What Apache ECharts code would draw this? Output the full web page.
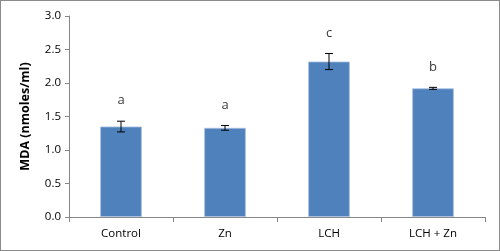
<!DOCTYPE html>
<html><head><meta charset="utf-8">
<script src="https://cdn.jsdelivr.net/npm/echarts@6/dist/echarts.min.js"></script>
<style>html,body{margin:0;padding:0;background:#fff}#c{width:500px;height:251px;box-sizing:border-box;border:1px solid #8a8a8a}</style>
</head><body><div id="c"></div>
<script>
const categories = ['Control', 'Zn', 'LCH', 'LCH + Zn'];
const means = [1.35, 1.33, 2.32, 1.92];
const errors = [0.08, 0.035, 0.12, 0.015];
const letters = ['a', 'a', 'c', 'b'];
const yTicks = [0, 0.5, 1.0, 1.5, 2.0, 2.5, 3.0];

const chart = echarts.init(document.getElementById('c'), null, {renderer: 'canvas'});
const font = 'Open Sans';
chart.setOption({
  animation: false,
  grid: {left: 68, right: 14, top: 15, bottom: 33},
  xAxis: {
    type: 'category', data: categories,
    axisLine: {lineStyle: {color: '#868686'}},
    axisTick: {show: true, length: 5, lineStyle: {color: '#868686'}, alignWithLabel: false},
    axisLabel: {color: '#000', fontFamily: font, fontSize: 11.5, margin: 11}
  },
  yAxis: {
    type: 'value', min: yTicks[0], max: yTicks[yTicks.length - 1], interval: 0.5,
    name: 'MDA (nmoles/ml)', nameLocation: 'middle', nameGap: 37,
    nameTextStyle: {fontFamily: font, fontWeight: 'bold', fontSize: 12.5, color: '#000'},
    axisLine: {show: true, lineStyle: {color: '#868686'}},
    axisTick: {show: true, length: 4, lineStyle: {color: '#868686'}},
    splitLine: {show: false},
    axisLabel: {color: '#000', fontFamily: font, fontSize: 11.5, margin: 8,
      formatter: v => v.toFixed(1)}
  },
  series: [
    {
      type: 'bar', data: means, barWidth: '40%',
      itemStyle: {color: '#4f81bd', borderColor: '#a9c0e0', borderWidth: 0.8}
    },
    {
      type: 'custom',
      data: means.map((m, i) => [i, m - errors[i], m + errors[i]]),
      renderItem: (params, api) => {
        const lo = api.coord([api.value(0), api.value(1)]);
        const hi = api.coord([api.value(0), api.value(2)]);
        const w = 4;
        const st = {stroke: '#000', lineWidth: 1};
        return {type: 'group', children: [
          {type: 'line', shape: {x1: lo[0], y1: lo[1], x2: hi[0], y2: hi[1]}, style: st},
          {type: 'line', shape: {x1: lo[0] - w, y1: lo[1], x2: lo[0] + w, y2: lo[1]}, style: st},
          {type: 'line', shape: {x1: hi[0] - w, y1: hi[1], x2: hi[0] + w, y2: hi[1]}, style: st}
        ]};
      },
      z: 5
    },
    {
      type: 'scatter', symbolSize: 0,
      data: means.map((m, i) => m + errors[i]),
      label: {show: true, position: 'top', distance: 14,
        formatter: p => letters[p.dataIndex],
        color: '#000', fontFamily: font, fontSize: 13}
    }
  ]
});
</script></body></html>
